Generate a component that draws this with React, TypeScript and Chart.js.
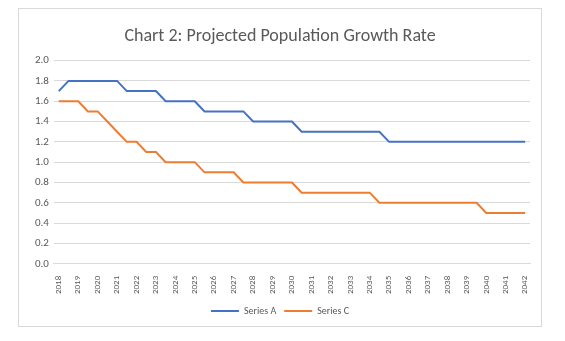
import React, { useEffect, useRef } from "react";
import { Chart, registerables } from "chart.js";

Chart.register(...registerables);

const periods = [
  "2018", "2018.5", "2019", "2019.5", "2020", "2020.5", "2021", "2021.5",
  "2022", "2022.5", "2023", "2023.5", "2024", "2024.5", "2025", "2025.5",
  "2026", "2026.5", "2027", "2027.5", "2028", "2028.5", "2029", "2029.5",
  "2030", "2030.5", "2031", "2031.5", "2032", "2032.5", "2033", "2033.5",
  "2034", "2034.5", "2035", "2035.5", "2036", "2036.5", "2037", "2037.5",
  "2038", "2038.5", "2039", "2039.5", "2040", "2040.5", "2041", "2041.5",
  "2042",
];

const seriesA = [
  1.7, 1.8, 1.8, 1.8, 1.8, 1.8, 1.8, 1.7, 1.7, 1.7, 1.7, 1.6, 1.6, 1.6, 1.6,
  1.5, 1.5, 1.5, 1.5, 1.5, 1.4, 1.4, 1.4, 1.4, 1.4, 1.3, 1.3, 1.3, 1.3, 1.3,
  1.3, 1.3, 1.3, 1.3, 1.2, 1.2, 1.2, 1.2, 1.2, 1.2, 1.2, 1.2, 1.2, 1.2, 1.2,
  1.2, 1.2, 1.2, 1.2,
];

const seriesC = [
  1.6, 1.6, 1.6, 1.5, 1.5, 1.4, 1.3, 1.2, 1.2, 1.1, 1.1, 1.0, 1.0, 1.0, 1.0,
  0.9, 0.9, 0.9, 0.9, 0.8, 0.8, 0.8, 0.8, 0.8, 0.8, 0.7, 0.7, 0.7, 0.7, 0.7,
  0.7, 0.7, 0.7, 0.6, 0.6, 0.6, 0.6, 0.6, 0.6, 0.6, 0.6, 0.6, 0.6, 0.6, 0.5,
  0.5, 0.5, 0.5, 0.5,
];

const yTicks = [0, 0.2, 0.4, 0.6, 0.8, 1.0, 1.2, 1.4, 1.6, 1.8, 2.0];

const FONT = "Carlito, Lato, 'Open Sans', sans-serif";
const TEXT = "#595959";
const GRID = "#D9D9D9";

const frame = {
  id: "frame",
  beforeDraw(chart: any) {
    const ctx = chart.ctx;
    ctx.save();
    ctx.fillStyle = "#ffffff";
    ctx.fillRect(0, 0, chart.width, chart.height);
    ctx.strokeStyle = GRID;
    ctx.lineWidth = 1;
    ctx.strokeRect(18.5, 8.5, 523, 318);
    ctx.restore();
  },
};

export default function App() {
  const ref = useRef<HTMLCanvasElement | null>(null);
  useEffect(() => {
    if (!ref.current) return;
    const chart = new Chart(ref.current, {
      type: "line",
      data: {
        labels: periods,
        datasets: [
          {
            label: "Series A",
            data: seriesA,
            borderColor: "#4472C4",
            backgroundColor: "#4472C4",
            borderWidth: 2,
            pointRadius: 0,
            tension: 0,
          },
          {
            label: "Series C",
            data: seriesC,
            borderColor: "#ED7D31",
            backgroundColor: "#ED7D31",
            borderWidth: 2,
            pointRadius: 0,
            tension: 0,
          },
        ],
      },
      options: {
        animation: false,
        responsive: false,
        layout: { padding: { left: 30, right: 35, top: 26, bottom: 15 } },
        plugins: {
          title: {
            display: true,
            text: "Chart 2: Projected Population Growth Rate",
            color: TEXT,
            font: { family: FONT, size: 18, weight: "normal" },
            padding: { top: 0, bottom: 13 },
          },
          legend: {
            position: "bottom",
            labels: {
              usePointStyle: true,
              pointStyle: "line",
              pointStyleWidth: 28,
              color: TEXT,
              font: { family: FONT, size: 10 },
              padding: 8,
            },
          },
          tooltip: { enabled: false },
        },
        scales: {
          x: {
            type: "category",
            offset: true,
            grid: { display: false },
            border: { display: true, color: GRID },
            ticks: {
              autoSkip: false,
              maxRotation: 90,
              minRotation: 90,
              color: TEXT,
              font: { family: FONT, size: 9 },
              padding: 4,
              callback: (_v: any, i: number) => (i % 2 === 0 ? periods[i] : ""),
            },
          },
          y: {
            min: 0,
            max: 2,
            afterBuildTicks: (axis: any) => {
              axis.ticks = yTicks.map((v) => ({ value: v }));
            },
            grid: { color: GRID, drawTicks: false },
            border: { display: false },
            ticks: {
              color: TEXT,
              font: { family: FONT, size: 11 },
              padding: 5,
              callback: (v: any) => Number(v).toFixed(1),
            },
          },
        },
      },
      plugins: [frame],
    });
    return () => chart.destroy();
  }, []);
  return (
    <div style={{ position: "fixed", left: 0, top: 0, width: 565, height: 341, background: "#fff" }}>
      <canvas ref={ref} width={565} height={341} style={{ width: 565, height: 341 }} />
    </div>
  );
}
